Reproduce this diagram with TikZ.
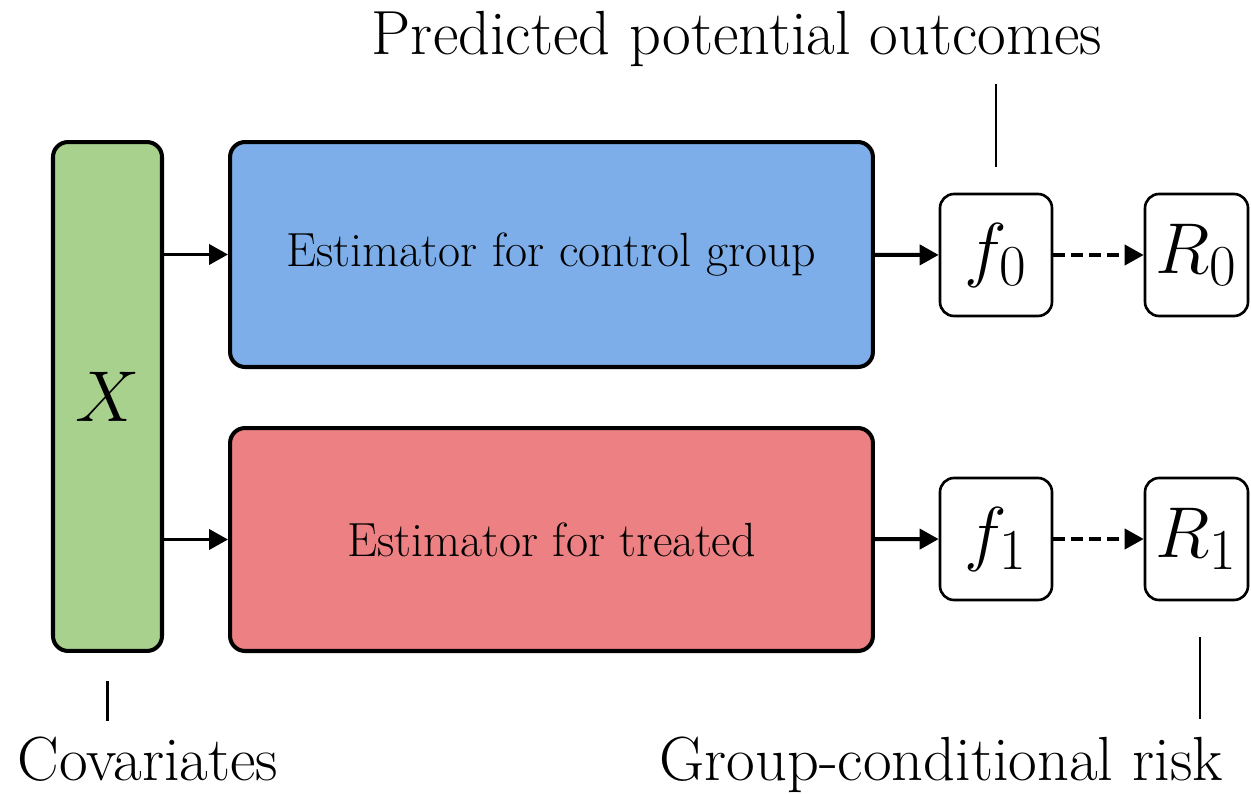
\RequirePackage{fix-cm}
\documentclass[tikz,border=0pt]{standalone}
\usepackage{fontspec}
\usetikzlibrary{arrows.meta}
\DeclareMathSizes{41}{41}{33}{27}
\definecolor{xgreen}{RGB}{169,209,142}
\definecolor{ctrlblue}{RGB}{125,174,233}
\definecolor{treatred}{RGB}{236,128,130}

\begin{document}
\begin{tikzpicture}[x=0.02cm, y=-0.02cm,
    bigbox/.style={draw, line width=2.3pt, rounded corners=0.3cm, inner sep=0pt},
    outbox/.style={draw, line width=1.5pt, rounded corners=0.28cm, inner sep=0pt,
        minimum height=2.44cm, fill=white, font=\fontsize{41}{48}\selectfont},
    arr/.style={line width=2.2pt, -{Triangle[length=0.38cm,width=0.4cm]}},
    tick/.style={line width=1.3pt},
    lbl/.style={font=\fontsize{35.5}{42}\selectfont, anchor=base}]
    \useasboundingbox (0, 0) rectangle (1251, 794);

    \node[bigbox, fill=xgreen, minimum width=2.18cm, minimum height=10.18cm,
        font=\fontsize{41}{48}\selectfont] (X) at (107.5, 396.5) {$X$};
    \node[bigbox, fill=ctrlblue, minimum width=12.86cm, minimum height=4.5cm,
        font=\fontsize{27.3}{32}\selectfont] (est0) at (551.5, 254.5) {Estimator for control group};
    \node[bigbox, fill=treatred, minimum width=12.86cm, minimum height=4.46cm,
        font=\fontsize{27.3}{32}\selectfont] (est1) at (551.5, 539.5) {Estimator for treated};

    \node[outbox, minimum width=2.24cm] (f0) at (996, 255) {$f_0$};
    \node[outbox, minimum width=2.06cm] (R0) at (1196.5, 255) {$R_0$};
    \node[outbox, minimum width=2.24cm] (f1) at (996, 539) {$f_1$};
    \node[outbox, minimum width=2.06cm] (R1) at (1196.5, 539) {$R_1$};

    \node[lbl] (pred) at (737, 55) {Predicted potential outcomes};
    \node[lbl] (cov) at (148, 780) {Covariates};
    \node[lbl] (risk) at (941, 780) {Group-conditional risk};

    \draw[arr] (X.east |- est0.west) -- (est0.west);
    \draw[arr] (X.east |- est1.west) -- (est1.west);
    \draw[arr] (est0) -- (f0);
    \draw[arr] (est1) -- (f1);
    \draw[arr, dash pattern=on 0.24cm off 0.12cm] (f0) -- (R0);
    \draw[arr, dash pattern=on 0.24cm off 0.12cm] (f1) -- (R1);

    \draw[tick] ([yshift=0.52cm]f0.north) -- ([yshift=2.18cm]f0.north);
    \draw[tick] ([yshift=-0.56cm]X.south) -- ([yshift=-1.36cm]X.south);
    \draw[tick] ([xshift=0.07cm, yshift=-0.72cm]R1.south) -- ([xshift=0.07cm, yshift=-2.36cm]R1.south);
\end{tikzpicture}
\end{document}
